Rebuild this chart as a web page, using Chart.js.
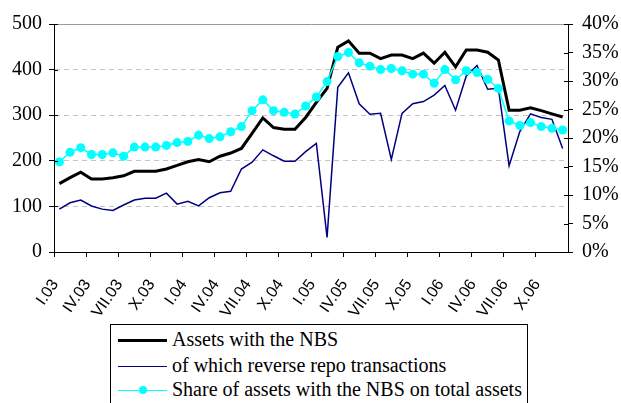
<!DOCTYPE html>
<html>
<head>
<meta charset="utf-8">
<script src="https://cdn.jsdelivr.net/npm/chart.js@4.4.1/dist/chart.umd.min.js"></script>
<style>
  html, body { margin: 0; padding: 0; background: #fff; }
  #wrap { position: relative; width: 621px; height: 403px; overflow: hidden; }
  #chart { display: block; }
  #legend {
    position: absolute; left: 110px; top: 324px; width: 416px; height: 100px;
    border: 1px solid #000; background: #fff;
    font-family: 'Liberation Serif', 'Times New Roman', serif; font-size: 20px; color: #000;
  }
  .sample { position: absolute; left: 7px; width: 49px; }
  .dot { position: absolute; left: 28px; width: 8px; height: 8px; border-radius: 50%; background: #00ffff; }
  .txt { position: absolute; left: 61px; height: 25px; line-height: 25px; white-space: nowrap; }
</style>
</head>
<body>
<div id="wrap">
  <canvas id="chart" width="621" height="403"></canvas>
  <div id="legend">
    <div class="sample" style="top:14px;height:3px;background:#000"></div>
    <div class="txt" style="top:2px">Assets with the NBS</div>
    <div class="sample" style="top:41px;height:1px;background:#000080"></div>
    <div class="txt" style="top:28px">of which reverse repo transactions</div>
    <div class="sample" style="top:65px;height:1px;background:#00ffff"></div>
    <div class="dot" style="top:61px"></div>
    <div class="txt" style="top:52px">Share of assets with the NBS on total assets</div>
  </div>
</div>
<script>
// months I.03 .. XII.06
const categories = [
  'I.03', 'II.03', 'III.03', 'IV.03', 'V.03', 'VI.03', 'VII.03', 'VIII.03', 'IX.03', 'X.03', 'XI.03', 'XII.03',
  'I.04', 'II.04', 'III.04', 'IV.04', 'V.04', 'VI.04', 'VII.04', 'VIII.04', 'IX.04', 'X.04', 'XI.04', 'XII.04',
  'I.05', 'II.05', 'III.05', 'IV.05', 'V.05', 'VI.05', 'VII.05', 'VIII.05', 'IX.05', 'X.05', 'XI.05', 'XII.05',
  'I.06', 'II.06', 'III.06', 'IV.06', 'V.06', 'VI.06', 'VII.06', 'VIII.06', 'IX.06', 'X.06', 'XI.06', 'XII.06'
];

// left axis
const assetsNBS = [
  150, 163, 175, 160, 160, 163, 167, 177, 177, 177, 182, 190,
  198, 203, 198, 210, 217, 227, 260, 294, 273, 269, 269, 295,
  328, 359, 449, 463, 436, 436, 424, 432, 432, 424, 436, 414,
  438, 406, 443, 443, 438, 421, 311, 311, 316, 310, 303, 296
];
const reverseRepo = [
  94, 108, 114, 101, 94, 91, 103, 114, 118, 118, 129, 105,
  111, 101, 119, 130, 133, 182, 197, 224, 211, 199, 199, 220,
  238, 32, 361, 393, 325, 302, 304, 203, 304, 325, 330, 344,
  365, 311, 386, 409, 357, 359, 189, 264, 303, 295, 291, 227
];
// right axis, %
const shareOfTotal = [
  15.8, 17.5, 18.3, 17.1, 17.1, 17.4, 16.8, 18.4, 18.4, 18.4, 18.7, 19.2,
  19.4, 20.5, 19.9, 20.2, 21.1, 22.0, 24.8, 26.7, 24.8, 24.5, 24.2, 25.6,
  27.2, 29.9, 34.3, 35.0, 33.2, 32.6, 32.0, 32.2, 31.8, 31.2, 31.2, 29.6,
  32.0, 30.2, 31.8, 31.5, 30.3, 28.7, 23.0, 22.2, 22.7, 22.0, 21.7, 21.4
];

const leftTicks = [0, 100, 200, 300, 400, 500];
const rightTicks = [0, 5, 10, 15, 20, 25, 30, 35, 40];

const serif = 'Liberation Serif';

// Excel-style "cross" tick marks: the short bit inside the plot
const innerTicks = {
  id: 'innerTicks',
  afterDraw(chart) {
    const ctx = chart.ctx;
    ctx.save();
    ctx.strokeStyle = '#000';
    ctx.lineWidth = 1;
    [['y', 1], ['y1', -1]].forEach(([id, dir]) => {
      const s = chart.scales[id];
      const x0 = id === 'y' ? chart.chartArea.left : chart.chartArea.right;
      s.ticks.forEach(t => {
        const py = Math.round(s.getPixelForValue(t.value)) + 0.5;
        ctx.beginPath();
        ctx.moveTo(x0, py);
        ctx.lineTo(x0 + dir * 4, py);
        ctx.stroke();
      });
    });
    ctx.restore();
  }
};

new Chart(document.getElementById('chart'), {
  type: 'line',
  data: {
    labels: categories,
    datasets: [
      {
        label: 'Assets with the NBS',
        data: assetsNBS,
        yAxisID: 'y',
        borderColor: '#000',
        borderWidth: 3,
        pointRadius: 0,
        order: 3
      },
      {
        label: 'of which reverse repo transactions',
        data: reverseRepo,
        yAxisID: 'y',
        borderColor: '#000080',
        borderWidth: 1.5,
        pointRadius: 0,
        order: 2
      },
      {
        label: 'Share of assets with the NBS on total assets',
        data: shareOfTotal,
        yAxisID: 'y1',
        borderColor: '#00ffff',
        backgroundColor: '#00ffff',
        pointBackgroundColor: '#00ffff',
        borderWidth: 1.5,
        pointRadius: 4.5,
        pointBorderWidth: 0,
        order: 1
      }
    ]
  },
  options: {
    responsive: false,
    animation: false,
    layout: { padding: { top: 24, left: 0, right: 0, bottom: 0 } },
    elements: { line: { tension: 0 } },
    plugins: { legend: { display: false }, tooltip: { enabled: false } },
    scales: {
      x: {
        type: 'category',
        offset: true,
        afterFit: function (scale) { scale.height = 151; },
        grid: {
          offset: true,
          drawOnChartArea: false,
          color: 'rgba(0,0,0,0)',
          tickLength: 5,
          tickColor: ctx => ctx.index % 3 === 0 ? '#000' : 'rgba(0,0,0,0)'
        },
        border: { color: '#000', width: 1 },
        ticks: {
          autoSkip: false,
          maxRotation: 55,
          minRotation: 55,
          padding: 19,
          labelOffset: -4,
          color: '#000',
          font: { family: 'Liberation Sans', size: 16 },
          callback: function (value, index) {
            return index % 3 === 0 ? this.getLabelForValue(value) : '';
          }
        }
      },
      y: {
        position: 'left',
        min: 0,
        max: 500,
        afterFit: function (scale) { scale.width = 54; },
        afterBuildTicks: function (scale) { scale.ticks = leftTicks.map(v => ({ value: v })); },
        grid: {
          color: ctx => ctx.tick.value === 0 ? 'rgba(0,0,0,0)' : (ctx.tick.value === 500 ? '#9a9a9a' : '#c4c4c4'),
          lineWidth: 1,
          tickLength: 5,
          tickColor: '#000'
        },
        border: {
          color: '#000',
          width: 1,
          dash: ctx => (ctx.tick && ctx.tick.value === 500) ? [] : [5, 4]
        },
        ticks: {
          padding: 7,
          color: '#000',
          font: { family: serif, size: 20 }
        }
      },
      y1: {
        position: 'right',
        min: 0,
        max: 40,
        afterFit: function (scale) { scale.width = 53; },
        afterBuildTicks: function (scale) { scale.ticks = rightTicks.map(v => ({ value: v })); },
        grid: {
          drawOnChartArea: false,
          tickLength: 5,
          tickColor: '#000'
        },
        border: { color: '#000', width: 1 },
        ticks: {
          padding: 9,
          color: '#000',
          font: { family: serif, size: 20 },
          callback: v => v + '%'
        }
      }
    }
  },
  plugins: [innerTicks]
});
</script>
</body>
</html>
